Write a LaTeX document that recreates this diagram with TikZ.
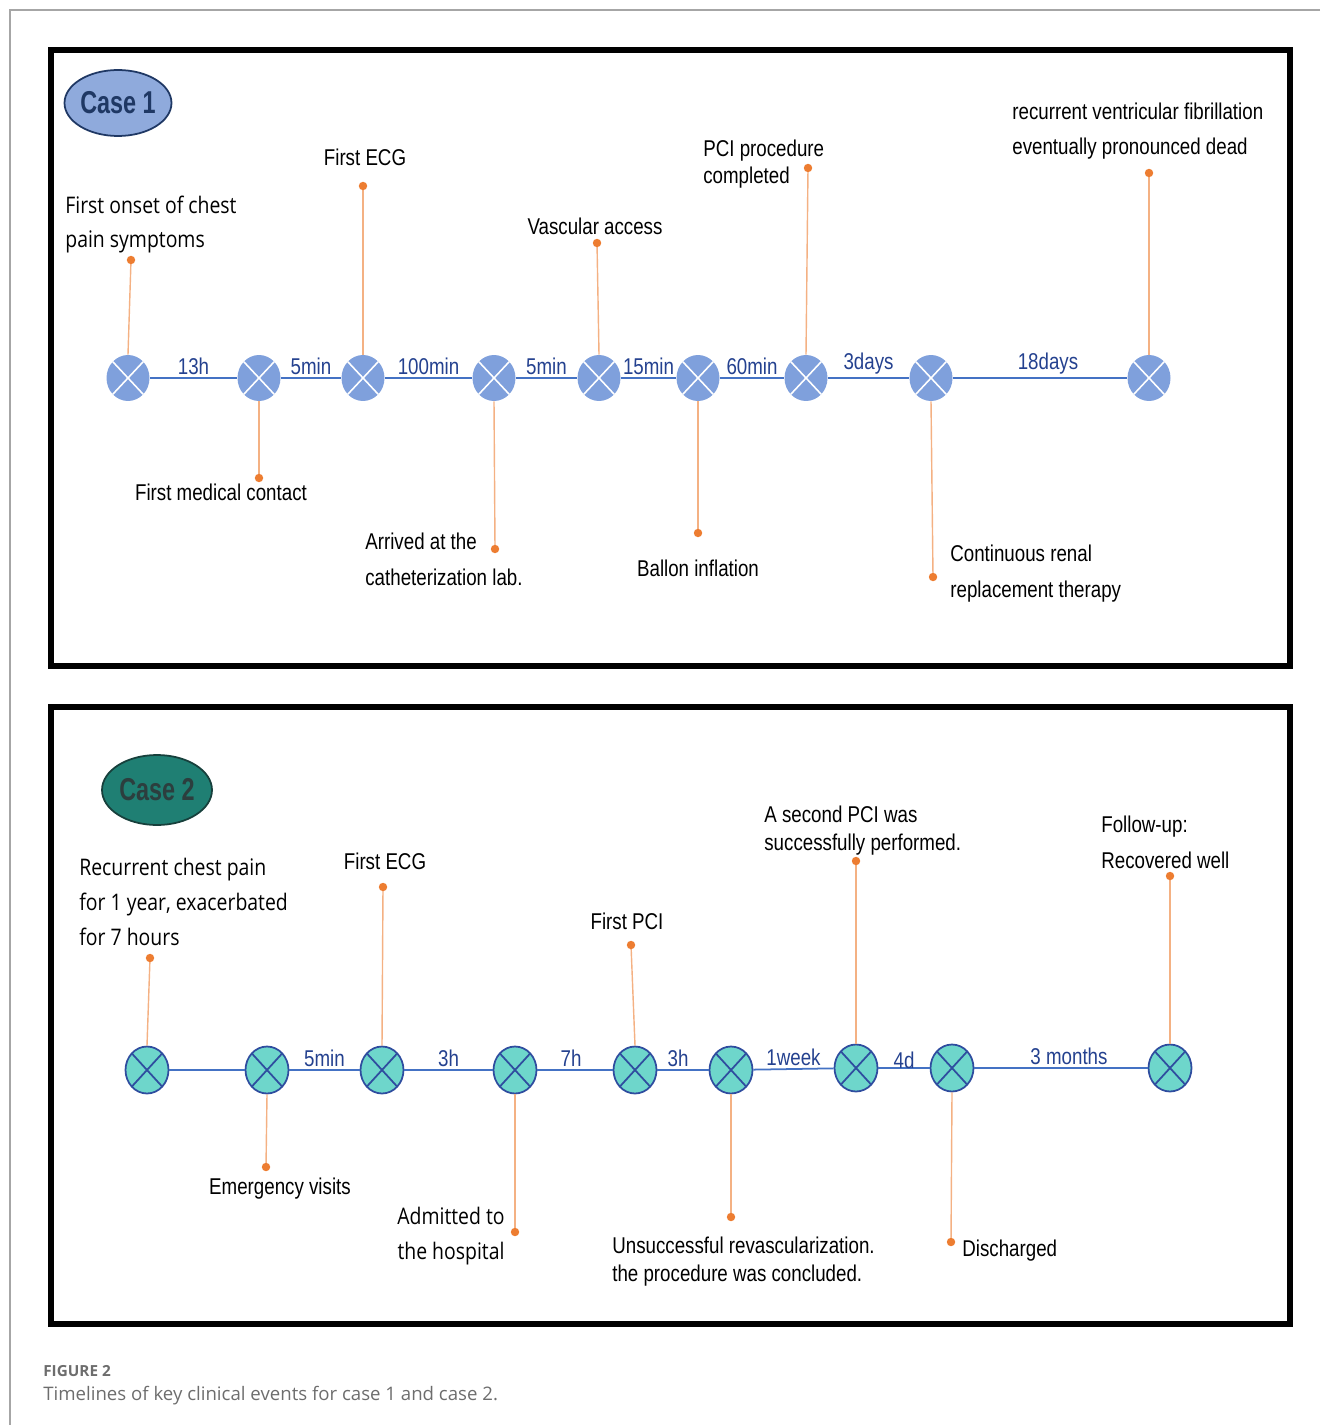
\documentclass[tikz,border=0pt]{standalone}
\usepackage{fontspec}
\setmainfont{Liberation Sans}
\newfontfamily\narrowfont{Liberation Sans}[FakeStretch=0.82]
\newfontfamily\tagfont{Liberation Sans}[FakeStretch=0.74]
\newfontfamily\notefont{Open Sans}[FakeStretch=0.85]
\newfontfamily\capfont{Open Sans}
\usetikzlibrary{shapes.geometric}

\definecolor{caseblue}{HTML}{8FAADC}
\definecolor{casenavy}{HTML}{1F3864}
\definecolor{caseteal}{HTML}{1F7F73}
\definecolor{casedark}{HTML}{17403C}
\definecolor{casetext}{HTML}{2C3E3E}
\definecolor{evblue}{HTML}{7FA0DC}
\definecolor{evteal}{HTML}{6ED6CB}
\definecolor{evedge}{HTML}{2F4D9F}
\definecolor{lineblue}{HTML}{4472C4}
\definecolor{durblue}{HTML}{24418F}
\definecolor{stemorange}{HTML}{F4B183}
\definecolor{tiporange}{HTML}{ED7D31}
\definecolor{capgray}{HTML}{6D6D6D}

\begin{document}
\begin{tikzpicture}[x=0.02cm, y=-0.02cm,
    lab/.style={inner sep=0pt, align=left, font={\narrowfont\fontsize{13}{20.4}\selectfont}},
    labt/.style={inner sep=0pt, align=left, font={\narrowfont\fontsize{13}{15.8}\selectfont}},
    note/.style={inner sep=0pt, align=left, font={\notefont\fontsize{13}{19.8}\selectfont}},
    dur/.style={above, inner sep=1.5pt, text=durblue, font={\narrowfont\fontsize{13}{15}\selectfont}},
    casetag/.style={ellipse, inner sep=0pt, line width=1pt, font={\tagfont\fontsize{18}{20}\selectfont\bfseries}},
    evA/.style={ellipse, minimum width=0.86cm, minimum height=0.92cm, inner sep=0pt, fill=evblue,
      path picture={\draw[white, line width=0.9pt]
        (path picture bounding box.north west) -- (path picture bounding box.south east)
        (path picture bounding box.south west) -- (path picture bounding box.north east);}},
    evB/.style={ellipse, minimum width=0.86cm, minimum height=0.94cm, inner sep=0pt, fill=evteal,
      draw=evedge, line width=1pt,
      path picture={\draw[evedge, line width=1pt]
        (path picture bounding box.north west) -- (path picture bounding box.south east)
        (path picture bounding box.south west) -- (path picture bounding box.north east);}},
    tl/.style={draw=lineblue, line width=1pt},
    stem/.style={draw=stemorange, line width=0.8pt},
    tipdot/.style={fill=tiporange},
    panelbox/.style={draw=black, line width=3.4pt},
  ]
  \useasboundingbox (0,0) rectangle (1320,1425);
  % page frame and panels
  \draw[gray!70, line width=0.6pt] (1320,10) -- (10,10) -- (10,1425);
  \draw[panelbox] (51,50) rectangle (1290,666);
  \draw[panelbox] (51,707) rectangle (1290,1324);

  % ---------------- case 1 ----------------
  \node[casetag, draw=casenavy, fill=caseblue, minimum width=2.14cm, minimum height=1.32cm,
    text=casenavy] (case1) at (118,103) {Case 1};
  % events
  \node[evA] (a1) at (128,378) {};
  \node[evA] (a2) at (259,378) {};
  \node[evA] (a3) at (363,378) {};
  \node[evA] (a4) at (494,378) {};
  \node[evA] (a5) at (599,378) {};
  \node[evA] (a6) at (698,378) {};
  \node[evA] (a7) at (806,378) {};
  \node[evA] (a8) at (931,378) {};
  \node[evA] (a9) at (1149,378) {};
  % intervals
  \draw[tl] (a1) -- node[dur] {13h} (a2);
  \draw[tl] (a2) -- node[dur] {5min} (a3);
  \draw[tl] (a3) -- node[dur] {100min} (a4);
  \draw[tl] (a4) -- node[dur] {5min} (a5);
  \draw[tl] (a5) -- node[dur] {15min} (a6);
  \draw[tl] (a6) -- node[dur] {60min} (a7);
  \draw[tl] (a7) -- node[dur] {3days} (a8);
  \draw[tl] (a8) -- node[dur, xshift=0.16cm] {18days} (a9);
  % stems
  \coordinate (a1t) at (131,260);
  \coordinate (a2t) at (259,478);
  \coordinate (a3t) at (363,186);
  \coordinate (a4t) at (495,549);
  \coordinate (a5t) at (597,243);
  \coordinate (a6t) at (698,533);
  \coordinate (a7t) at (808,168);
  \coordinate (a8t) at (933,577);
  \coordinate (a9t) at (1149,173);
  \foreach \e/\s in {a1/north, a2/south, a3/north, a4/south, a5/north, a6/south, a7/north, a8/south, a9/north} {
    \draw[stem] (\e.\s) -- (\e t);
    \fill[tipdot] (\e t) circle[radius=2.4pt];
  }
  % event texts (base = last line)
  \node[note, anchor=base west] (a1l) at (65,248) {First onset of chest\\pain symptoms};
  \node[lab, anchor=base] (a2l) at (221,500) {First medical contact};
  \node[lab, anchor=base] (a3l) at (365,166) {First ECG};
  \node[lab, anchor=base west] (a4l) at (365,585) {Arrived at the\\catheterization lab.};
  \node[lab, anchor=base] (a5l) at (595,235) {Vascular access};
  \node[lab, anchor=base] (a6l) at (698,576) {Ballon inflation};
  \node[labt, anchor=base west] (a7l) at (703,184) {PCI procedure\\completed};
  \node[lab, anchor=base west] (a8l) at (950,597) {Continuous renal\\replacement therapy};
  \node[lab, anchor=base west] (a9l) at (1012,155) {recurrent ventricular fibrillation\\eventually pronounced dead};

  % ---------------- case 2 ----------------
  \node[casetag, draw=casedark, fill=caseteal, minimum width=2.2cm, minimum height=1.4cm,
    text=casetext] (case2) at (157,790) {Case 2};
  % events
  \node[evB] (b1) at (147,1070) {};
  \node[evB] (b2) at (267,1070) {};
  \node[evB] (b3) at (382,1070) {};
  \node[evB] (b4) at (515,1070) {};
  \node[evB] (b5) at (635,1070) {};
  \node[evB] (b6) at (731,1070) {};
  \node[evB] (b7) at (856,1068) {};
  \node[evB] (b8) at (952,1068) {};
  \node[evB] (b9) at (1170,1068) {};
  % intervals
  \draw[tl] (b1) -- (b2);
  \draw[tl] (b2) -- node[dur] {5min} (b3);
  \draw[tl] (b3) -- node[dur] {3h} (b4);
  \draw[tl] (b4) -- node[dur, xshift=-0.08cm] {7h} (b5);
  \draw[tl] (b5) -- node[dur, xshift=-0.1cm] {3h} (b6);
  \draw[tl] (b6) -- node[dur] {1week} (b7);
  \draw[tl] (b7) -- node[dur, yshift=-0.08cm] {4d} (b8);
  \draw[tl] (b8) -- node[dur, xshift=0.16cm] {3 months} (b9);
  % stems
  \coordinate (b1t) at (150,958);
  \coordinate (b2t) at (266,1167);
  \coordinate (b3t) at (383,887);
  \coordinate (b4t) at (515,1232);
  \coordinate (b5t) at (631,945);
  \coordinate (b6t) at (731,1217);
  \coordinate (b7t) at (856,861);
  \coordinate (b8t) at (951,1242);
  \coordinate (b9t) at (1170,876);
  \foreach \e/\s in {b1/north, b2/south, b3/north, b4/south, b5/north, b6/south, b7/north, b8/south, b9/north} {
    \draw[stem] (\e.\s) -- (\e t);
    \fill[tipdot] (\e t) circle[radius=2.4pt];
  }
  % event texts (base = last line)
  \node[note, anchor=base west] (b1l) at (79,945) {Recurrent chest pain\\for 1 year, exacerbated\\for 7 hours};
  \node[lab, anchor=base] (b2l) at (280,1194) {Emergency visits};
  \node[lab, anchor=base] (b3l) at (385,869) {First ECG};
  \node[note, anchor=base, align=center] (b4l) at (451,1259) {Admitted to\\the hospital};
  \node[lab, anchor=base] (b5l) at (627,929) {First PCI};
  \node[labt, anchor=base west] (b6l) at (612,1281) {Unsuccessful revascularization.\\the procedure was concluded.};
  \node[labt, anchor=base west] (b7l) at (764,850) {A second PCI was\\successfully performed.};
  \node[lab, anchor=base west] (b8l) at (962,1256) {Discharged};
  \node[lab, anchor=base west] (b9l) at (1101,868) {Follow-up:\\Recovered well};

  % caption
  \node[anchor=base west, inner sep=0pt, text=capgray, font={\capfont\bfseries\fontsize{8.7}{10}\selectfont}] (fig) at (43,1376) {FIGURE 2};
  \node[anchor=base west, inner sep=0pt, text=capgray, font={\capfont\fontsize{10.6}{12}\selectfont}] (cap) at (43,1400) {Timelines of key clinical events for case 1 and case 2.};
\end{tikzpicture}
\end{document}
